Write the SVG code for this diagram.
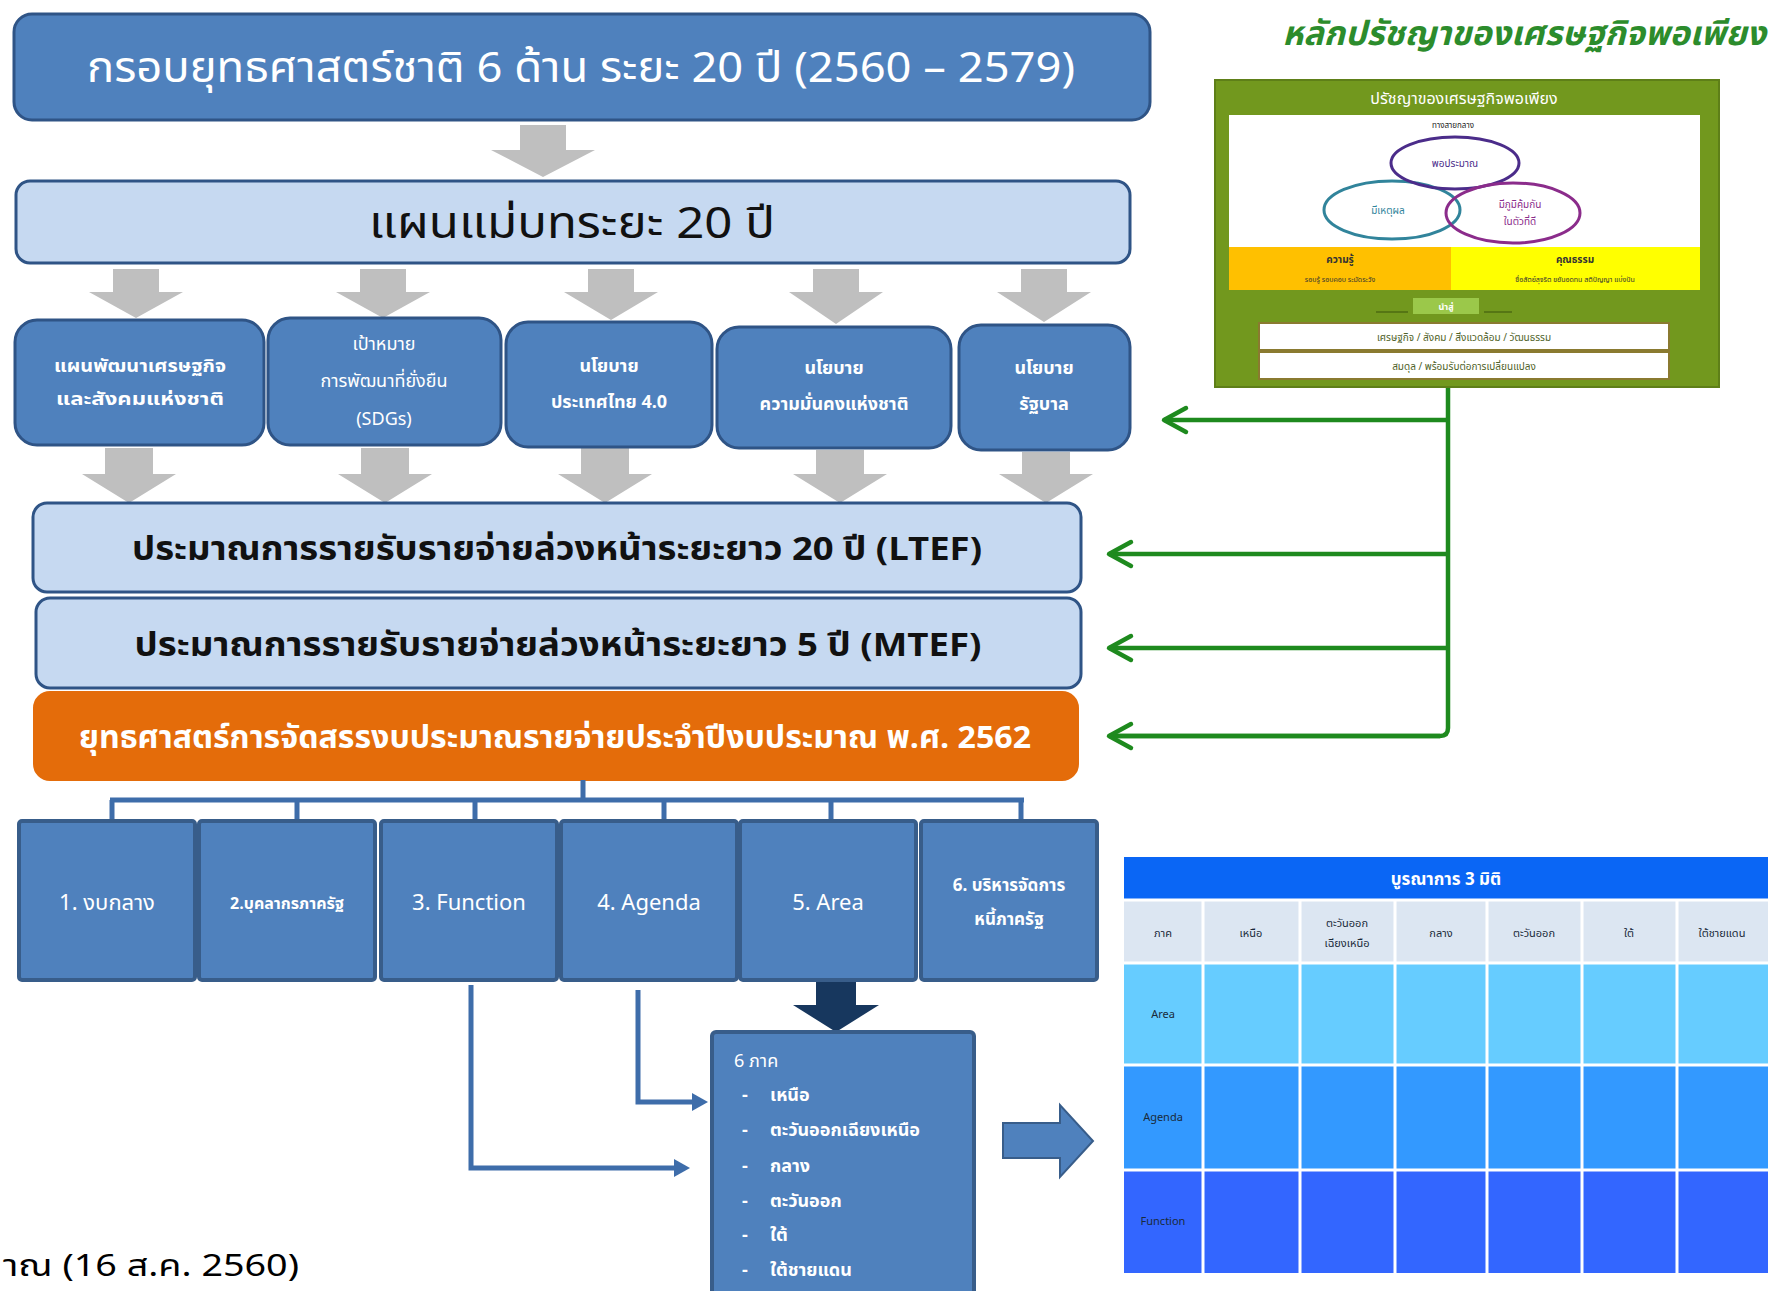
<svg xmlns="http://www.w3.org/2000/svg" width="1775" height="1291" viewBox="0 0 1775 1291">
<defs>
<style>
text{font-family:"Noto Sans Thai","Tahoma","DejaVu Sans","Noto Sans",sans-serif}
.bluebox{fill:#4F81BD;stroke:#2F5486;stroke-width:3}
.lightbox{fill:#C6D9F1;stroke:#2F5486;stroke-width:3}
.orangebox{fill:#E46C0A;stroke:#E46C0A;stroke-width:2}
.sq{fill:#4F81BD;stroke:#385D8A;stroke-width:4}
.grey{fill:#BFBFBF}
.wt{fill:#ffffff;font-weight:bold;text-anchor:middle}
.bt{fill:#111111;font-weight:bold;text-anchor:middle}
.tree{fill:none;stroke:#3E6DAA;stroke-width:5}
.blink{fill:none;stroke:#3E6DAA;stroke-width:5}
.gl{fill:none;stroke:#1E8A1E;stroke-width:4.5}
.th{fill:#1a2a3a;font-size:11px;text-anchor:middle}
.gw{fill:#4F6228;font-size:10px;text-anchor:middle}
</style>
<marker id="chev" markerUnits="userSpaceOnUse" markerWidth="32" markerHeight="32" viewBox="-28 -16 32 32" refX="0" refY="0" orient="auto">
<path d="M -22 -12 L 0 0 L -22 12" fill="none" stroke="#1E8A1E" stroke-width="4.5" stroke-linecap="round" stroke-linejoin="round"/>
</marker>
<marker id="tri" markerUnits="userSpaceOnUse" markerWidth="24" markerHeight="24" viewBox="-2 -12 24 24" refX="0" refY="0" orient="auto">
<path d="M 0 -9 L 16 0 L 0 9 Z" fill="#3E6DAA"/>
</marker>
</defs>
<rect width="1775" height="1291" fill="#ffffff"/>

<!-- grey arrows -->
<g id="grey-arrows">
<path class="grey" d="M520 125 H566 V150 H595 L543 177 L491 150 H520 Z"/>
<path class="grey" d="M113 269 H159 V292 H183 L136 318 L89 292 H113 Z"/>
<path class="grey" d="M360 269 H406 V292 H430 L383 318 L336 292 H360 Z"/>
<path class="grey" d="M588 269 H634 V292 H658 L611 320 L564 292 H588 Z"/>
<path class="grey" d="M813 269 H859 V292 H883 L836 324 L789 292 H813 Z"/>
<path class="grey" d="M1021 269 H1067 V292 H1091 L1044 322 L997 292 H1021 Z"/>
<path class="grey" d="M105 448 H153 V474 H176 L129 503 L82 474 H105 Z"/>
<path class="grey" d="M361 448 H409 V474 H432 L385 503 L338 474 H361 Z"/>
<path class="grey" d="M581 448 H629 V474 H652 L605 503 L558 474 H581 Z"/>
<path class="grey" d="M816 450 H864 V474 H887 L840 503 L793 474 H816 Z"/>
<path class="grey" d="M1022 452 H1070 V474 H1093 L1046 503 L999 474 H1022 Z"/>
</g>

<g id="n-strategy">
<rect class="bluebox" x="14" y="14" width="1136" height="106" rx="18"/>
<text x="581" y="82" font-size="42" fill="#ffffff" text-anchor="middle" textLength="988" lengthAdjust="spacingAndGlyphs">กรอบยุทธศาสตร์ชาติ 6 ด้าน ระยะ 20 ปี (2560 – 2579)</text>
</g>

<g id="n-masterplan">
<rect class="lightbox" x="16" y="181" width="1114" height="82" rx="14"/>
<text x="572" y="238" font-size="44" fill="#111" text-anchor="middle" textLength="406" lengthAdjust="spacingAndGlyphs">แผนแม่บทระยะ 20 ปี</text>
</g>

<g id="n-plan1">
<rect class="bluebox" x="15" y="320" width="249" height="125" rx="22"/>
<text class="wt" x="140" y="372" font-size="18" textLength="172" lengthAdjust="spacingAndGlyphs">แผนพัฒนาเศรษฐกิจ</text>
<text class="wt" x="140" y="405" font-size="18" textLength="168" lengthAdjust="spacingAndGlyphs">และสังคมแห่งชาติ</text>
</g>
<g id="n-plan2">
<rect class="bluebox" x="268" y="318" width="233" height="127" rx="22"/>
<text class="wt" x="384" y="350" font-size="18" style="font-weight:normal">เป้าหมาย</text>
<text class="wt" x="384" y="387" font-size="18" style="font-weight:normal">การพัฒนาที่ยั่งยืน</text>
<text class="wt" x="384" y="425" font-size="18" style="font-weight:normal">(SDGs)</text>
</g>
<g id="n-plan3">
<rect class="bluebox" x="506" y="322" width="206" height="125" rx="22"/>
<text class="wt" x="609" y="372" font-size="18">นโยบาย</text>
<text class="wt" x="609" y="408" font-size="18">ประเทศไทย 4.0</text>
</g>
<g id="n-plan4">
<rect class="bluebox" x="717" y="327" width="234" height="121" rx="22"/>
<text class="wt" x="834" y="374" font-size="18">นโยบาย</text>
<text class="wt" x="834" y="410" font-size="18">ความมั่นคงแห่งชาติ</text>
</g>
<g id="n-plan5">
<rect class="bluebox" x="959" y="325" width="171" height="125" rx="22"/>
<text class="wt" x="1044" y="374" font-size="18">นโยบาย</text>
<text class="wt" x="1044" y="410" font-size="18">รัฐบาล</text>
</g>

<g id="n-ltef">
<rect class="lightbox" x="33" y="503" width="1048" height="89" rx="14"/>
<text class="bt" x="557" y="560" font-size="33" textLength="850" lengthAdjust="spacingAndGlyphs">ประมาณการรายรับรายจ่ายล่วงหน้าระยะยาว 20 ปี (LTEF)</text>
</g>
<g id="n-mtef">
<rect class="lightbox" x="36" y="598" width="1045" height="90" rx="14"/>
<text class="bt" x="558" y="656" font-size="33" textLength="847" lengthAdjust="spacingAndGlyphs">ประมาณการรายรับรายจ่ายล่วงหน้าระยะยาว 5 ปี (MTEF)</text>
</g>
<g id="n-annual">
<rect class="orangebox" x="34" y="692" width="1044" height="88" rx="16"/>
<text class="wt" x="555" y="748" font-size="31" textLength="952" lengthAdjust="spacingAndGlyphs">ยุทธศาสตร์การจัดสรรงบประมาณรายจ่ายประจำปีงบประมาณ พ.ศ. 2562</text>
</g>

<g id="connectors">
<path class="tree" d="M583 780 V800 M110 800 H1024 M112 800 V821 M297 800 V821 M475 800 V821 M664 800 V821 M831 800 V821 M1021 800 V821"/>
<path class="blink" d="M471 985 V1168 H674" marker-end="url(#tri)"/>
<path class="blink" d="M638 990 V1102 H692" marker-end="url(#tri)"/>
<path d="M816 982 H856 V1005 H879 L836 1032 L793 1005 H816 Z" fill="#17375E"/>
<path d="M1003 1123 H1060 V1105 L1093 1141 L1060 1177 V1158 H1003 Z" fill="#4F81BD" stroke="#385D8A" stroke-width="2"/>
<path class="gl" d="M1448 387 V728 Q1448 736 1440 736 H1110"/>
<path class="gl" d="M1448 420 H1164" marker-end="url(#chev)"/>
<path class="gl" d="M1448 554 H1109" marker-end="url(#chev)"/>
<path class="gl" d="M1448 648 H1109" marker-end="url(#chev)"/>
<path class="gl" d="M1440 736 H1109" marker-end="url(#chev)"/>
</g>

<g id="n-b1">
<rect class="sq" x="19" y="821" width="176" height="159" rx="3"/>
<text class="wt" x="107" y="910" font-size="22" style="font-weight:normal">1. งบกลาง</text>
</g>
<g id="n-b2">
<rect class="sq" x="199" y="821" width="176" height="159" rx="3"/>
<text class="wt" x="287" y="909" font-size="16">2.บุคลากรภาครัฐ</text>
</g>
<g id="n-b3">
<rect class="sq" x="381" y="821" width="176" height="159" rx="3"/>
<text class="wt" x="469" y="910" font-size="22" style="font-weight:normal">3. Function</text>
</g>
<g id="n-b4">
<rect class="sq" x="561" y="821" width="176" height="159" rx="3"/>
<text class="wt" x="649" y="910" font-size="22" style="font-weight:normal">4. Agenda</text>
</g>
<g id="n-b5">
<rect class="sq" x="740" y="821" width="176" height="159" rx="3"/>
<text class="wt" x="828" y="910" font-size="22" style="font-weight:normal">5. Area</text>
</g>
<g id="n-b6">
<rect class="sq" x="921" y="821" width="176" height="159" rx="3"/>
<text class="wt" x="1009" y="891" font-size="17">6. บริหารจัดการ</text>
<text class="wt" x="1009" y="925" font-size="17">หนี้ภาครัฐ</text>
</g>

<g id="n-regions">
<rect class="sq" x="712" y="1032" width="262" height="280" rx="4"/>
<g fill="#ffffff" font-size="18" font-weight="bold">
<text x="734" y="1067" style="font-weight:normal">6 ภาค</text>
<text x="742" y="1101">-</text><text x="770" y="1101">เหนือ</text>
<text x="742" y="1136">-</text><text x="770" y="1136">ตะวันออกเฉียงเหนือ</text>
<text x="742" y="1172">-</text><text x="770" y="1172">กลาง</text>
<text x="742" y="1207">-</text><text x="770" y="1207">ตะวันออก</text>
<text x="742" y="1241">-</text><text x="770" y="1241">ใต้</text>
<text x="742" y="1276">-</text><text x="770" y="1276">ใต้ชายแดน</text>
</g>
</g>

<g id="n-table">
<rect x="1124" y="857" width="644" height="43" fill="#0A66F5"/>
<rect x="1124" y="900" width="644" height="63" fill="#DCE6F2"/>
<rect x="1124" y="963" width="644" height="102" fill="#66CCFF"/>
<rect x="1124" y="1065" width="644" height="105" fill="#3399FF"/>
<rect x="1124" y="1170" width="644" height="103" fill="#3366FF"/>
<path d="M1124 900 H1768 M1124 963 H1768 M1124 1065 H1768 M1124 1170 H1768 M1203 900 V1273 M1300 900 V1273 M1395 900 V1273 M1487 900 V1273 M1582 900 V1273 M1677 900 V1273" stroke="#ffffff" stroke-width="3" fill="none"/>
<text x="1446" y="885" font-size="17" fill="#ffffff" font-weight="bold" text-anchor="middle">บูรณาการ 3 มิติ</text>
<text class="th" x="1163" y="937">ภาค</text>
<text class="th" x="1251" y="937">เหนือ</text>
<text class="th" x="1347" y="927">ตะวันออก</text>
<text class="th" x="1347" y="947">เฉียงเหนือ</text>
<text class="th" x="1441" y="937">กลาง</text>
<text class="th" x="1534" y="937">ตะวันออก</text>
<text class="th" x="1629" y="937">ใต้</text>
<text class="th" x="1722" y="937">ใต้ชายแดน</text>
<text class="th" x="1163" y="1018">Area</text>
<text class="th" x="1163" y="1121">Agenda</text>
<text class="th" x="1163" y="1225">Function</text>
</g>

<g id="n-philosophy-title">
<text x="1766" y="45" font-size="34" fill="#2C8C2C" font-weight="bold" font-style="italic" text-anchor="end">หลักปรัชญาของเศรษฐกิจพอเพียง</text>
</g>

<g id="n-philosophy">
<rect x="1215" y="80" width="504" height="307" fill="#72981E" stroke="#5E7F18" stroke-width="2"/>
<text x="1464" y="104" font-size="16" fill="#ffffff" text-anchor="middle">ปรัชญาของเศรษฐกิจพอเพียง</text>
<rect x="1229" y="115" width="471" height="175" fill="#ffffff"/>
<text x="1453" y="128" font-size="8" fill="#222" text-anchor="middle">ทางสายกลาง</text>
<ellipse cx="1392" cy="210" rx="68" ry="29" fill="none" stroke="#31849B" stroke-width="3"/>
<ellipse cx="1455" cy="163" rx="64" ry="26" fill="none" stroke="#4B2C8A" stroke-width="3"/>
<ellipse cx="1513" cy="213" rx="67" ry="30" fill="none" stroke="#8B2C8B" stroke-width="3"/>
<text x="1455" y="167" font-size="10" fill="#4B2C8A" text-anchor="middle">พอประมาณ</text>
<text x="1388" y="214" font-size="10" fill="#31849B" text-anchor="middle">มีเหตุผล</text>
<text x="1520" y="208" font-size="10" fill="#8B2C8B" text-anchor="middle">มีภูมิคุ้มกัน</text>
<text x="1520" y="225" font-size="10" fill="#8B2C8B" text-anchor="middle">ในตัวที่ดี</text>
<rect x="1229" y="247" width="222" height="43" fill="#FFC000"/>
<rect x="1451" y="247" width="249" height="43" fill="#FFFF00"/>
<text x="1340" y="263" font-size="10" font-weight="bold" fill="#333" text-anchor="middle">ความรู้</text>
<text x="1340" y="282" font-size="7" fill="#333" text-anchor="middle">รอบรู้ รอบคอบ ระมัดระวัง</text>
<text x="1575" y="263" font-size="10" font-weight="bold" fill="#333" text-anchor="middle">คุณธรรม</text>
<text x="1575" y="282" font-size="7" fill="#333" text-anchor="middle">ซื่อสัตย์สุจริต ขยันอดทน สติปัญญา แบ่งปัน</text>
<path d="M1376 312 H1408 M1484 312 H1512" stroke="#4E6B12" stroke-width="1.5"/>
<rect x="1413" y="298" width="66" height="16" fill="#9BC84A"/>
<text x="1446" y="310" font-size="9" fill="#ffffff" font-weight="bold" text-anchor="middle">นำสู่</text>
<rect x="1259" y="323" width="410" height="27" fill="#ffffff" stroke="#8A7A30" stroke-width="2"/>
<rect x="1259" y="352" width="410" height="27" fill="#ffffff" stroke="#8A7A30" stroke-width="2"/>
<text class="gw" x="1464" y="341">เศรษฐกิจ / สังคม / สิ่งแวดล้อม / วัฒนธรรม</text>
<text class="gw" x="1464" y="370">สมดุล / พร้อมรับต่อการเปลี่ยนแปลง</text>
</g>

<g id="n-date">
<text x="3" y="1276" font-size="30" fill="#000000" textLength="296" lengthAdjust="spacingAndGlyphs">าณ (16 ส.ค. 2560)</text>
</g>
</svg>
